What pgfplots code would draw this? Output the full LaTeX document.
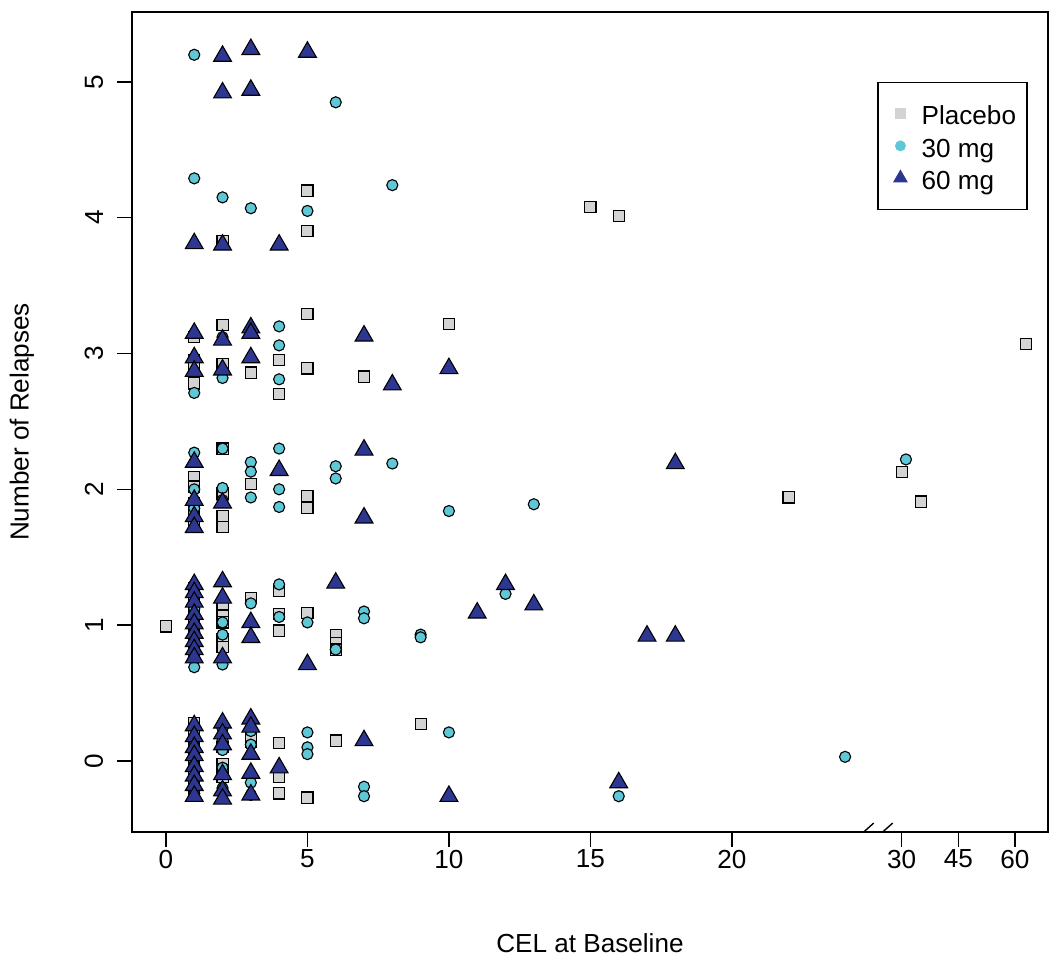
\documentclass[border=0pt]{standalone}
\usepackage{pgfplots}
\pgfplotsset{compat=1.18}
\usepackage{fontspec}
\setmainfont{Liberation Sans}

\definecolor{plc}{RGB}{211,211,211}
\definecolor{c30}{RGB}{95,200,215}
\definecolor{c60}{RGB}{45,55,145}

% x beyond the break: 30 -> 26, 45 -> 28, 60 -> 30
\pgfplotstableread{
x y
0 0.99
1 3.12
1 2.95
1 2.92
1 2.78
1 2.09
1 2.02
1 1.90
1 1.84
1 1.76
1 1.27
1 1.20
1 1.10
1 1.00
1 0.93
1 0.85
1 0.79
1 0.28
1 0.21
1 0.12
1 0.03
1 -0.06
1 -0.14
1 -0.22
2 3.83
2 3.21
2 2.92
2 2.30
2 1.97
2 1.80
2 1.72
2 1.14
2 1.07
2 1.02
2 0.90
2 0.84
2 0.10
2 -0.02
2 -0.07
2 -0.12
3 2.86
3 2.04
3 1.20
3 0.14
3 0.18
4 2.95
4 2.70
4 1.25
4 1.08
4 0.96
4 0.13
4 -0.12
4 -0.24
5 4.20
5 3.90
5 3.29
5 2.89
5 1.95
5 1.86
5 1.09
5 -0.27
6 0.93
6 0.87
6 0.82
6 0.15
7 2.83
9 0.27
10 3.22
15 4.08
16 4.01
22 1.94
26.0 2.13
26.68 1.91
30.39 3.07
}\placebo

\pgfplotstableread{
x y
1 5.20
1 4.29
1 2.71
1 2.27
1 2.00
1 1.86
1 1.12
1 0.95
1 0.69
1 0.15
1 -0.03
1 -0.24
2 4.15
2 3.12
2 2.82
2 2.30
2 2.01
2 1.92
2 1.02
2 0.93
2 0.71
2 0.24
2 0.15
2 0.08
2 -0.05
2 -0.20
3 4.07
3 2.20
3 2.13
3 1.94
3 1.16
3 0.22
3 0.12
3 -0.16
3 -0.25
4 3.20
4 3.06
4 2.81
4 2.30
4 2.00
4 1.87
4 1.30
4 1.06
5 4.05
5 1.02
5 0.21
5 0.10
5 0.05
6 4.85
6 2.17
6 2.08
6 0.82
7 1.10
7 1.05
7 -0.19
7 -0.26
8 4.24
8 2.19
9 0.93
9 0.91
10 1.84
10 0.21
12 1.23
13 1.89
16 -0.26
24 0.03
26.15 2.22
}\mgthirty

\pgfplotstableread{
x y
1 3.81
1 3.15
1 2.97
1 2.87
1 2.20
1 1.92
1 1.80
1 1.72
1 1.30
1 1.24
1 1.17
1 1.08
1 1.01
1 0.94
1 0.88
1 0.82
1 0.76
1 0.26
1 0.18
1 0.10
1 0.04
1 -0.04
1 -0.11
1 -0.18
1 -0.26
2 5.19
2 4.92
2 3.80
2 3.10
2 2.88
2 1.90
2 1.32
2 1.20
2 0.76
2 0.28
2 0.20
2 0.12
2 -0.10
2 -0.22
2 -0.28
3 5.24
3 4.94
3 3.19
3 3.15
3 2.97
3 1.02
3 0.91
3 0.31
3 0.25
3 0.05
3 -0.09
3 -0.25
4 3.80
4 2.14
4 -0.05
5 5.22
5 0.71
6 1.31
7 3.13
7 2.29
7 1.79
7 0.15
8 2.77
10 2.89
10 -0.26
11 1.09
12 1.30
13 1.15
16 -0.16
17 0.92
18 2.19
18 0.92
}\mgsixty

\begin{document}
\begin{tikzpicture}
\begin{axis}[
  scale only axis,
  width=329.8pt, height=295.2pt,
  xmin=-1.2, xmax=31.17,
  ymin=-0.523, ymax=5.515,
  xtick={0,5,10,15,20,26,28,30},
  xticklabels={0,5,10,15,20,30,45,60},
  ytick={0,1,2,3,4,5},
  tick align=outside, tick pos=left,
  major tick length=5.4pt,
  tick style={black, line width=0.5pt},
  axis line style={black, line width=0.6pt},
  font=\fontsize{9.4}{11}\selectfont,
  /pgf/number format/assume math mode=true,
  xticklabel style={yshift=2.5pt},
  yticklabel style={rotate=90, anchor=south, yshift=1.5pt},
  xlabel={CEL at Baseline},
  ylabel={Number of Relapses},
  xlabel style={at={(axis description cs:0.5,-0.1354)}, anchor=center},
  ylabel style={at={(axis description cs:-0.1201,0.5)}, anchor=center},
  legend style={at={(0.978,0.915)}, anchor=north east, draw=black, line width=0.5pt,
    font=\fontsize{9.4}{11}\selectfont, inner xsep=2pt, inner ysep=5pt,
    row sep=-0.9pt, column sep=-0.4pt, nodes={text height=8.3pt, text depth=0.2pt}},
  legend cell align=left,
  only marks,
]
\addplot[mark=square*, mark size=2pt, mark options={fill=plc, draw=black, line width=0.4pt},
  legend image code/.code={\path (-5.8pt,0) (5.8pt,0); \fill[plc] (-1.7pt,-1.7pt) rectangle (1.7pt,1.7pt);}]
  table[x=x, y=y] {\placebo};
\addlegendentry{Placebo}
\addplot[mark=*, mark size=2pt, mark options={fill=c30, draw=black, line width=0.4pt},
  legend image code/.code={\path (-5.8pt,0) (5.8pt,0); \fill[c30] (0,0) circle (1.7pt);}]
  table[x=x, y=y] {\mgthirty};
\addlegendentry{30 mg}
\addplot[mark=triangle*, mark size=3.7pt, mark options={fill=c60, draw=black, line width=0.4pt},
  legend image code/.code={\path (-5.8pt,0) (5.8pt,0); \fill[c60] (90:2.6pt) -- (210:2.6pt) -- (330:2.6pt) -- cycle;}]
  table[x=x, y=y] {\mgsixty};
\addlegendentry{60 mg}
% axis break marks
\draw[black, line width=0.5pt] ([xshift=-3.6pt,yshift=-3.2pt]axis cs:24.66,-0.523) -- ([xshift=3.6pt,yshift=3.2pt]axis cs:24.66,-0.523);
\draw[black, line width=0.5pt] ([xshift=-3.6pt,yshift=-3.2pt]axis cs:25.33,-0.523) -- ([xshift=3.6pt,yshift=3.2pt]axis cs:25.33,-0.523);
\end{axis}
\pgfresetboundingbox
\path ([xshift=-47.52pt,yshift=-50.04pt]current axis.south west) rectangle ([xshift=0.72pt,yshift=4.32pt]current axis.north east);
\end{tikzpicture}
\end{document}
